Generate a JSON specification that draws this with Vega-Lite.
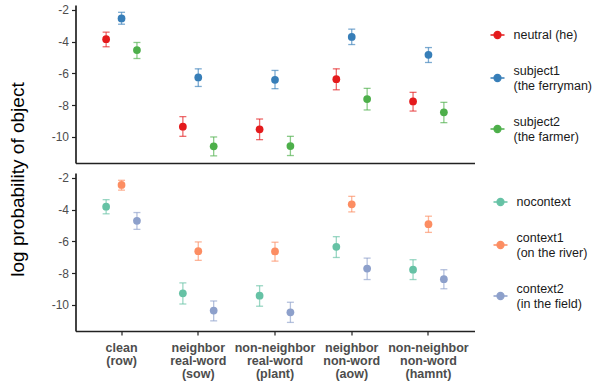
{
  "$schema": "https://vega.github.io/schema/vega-lite/v6.json",
  "background": "white",
  "padding": {"left": 8.5, "top": 3, "right": 5, "bottom": 0},
  "config": {
    "font": "Liberation Sans",
    "view": {"stroke": null},
    "axis": {"grid": false, "domainColor": "#222222", "domainWidth": 1.7, "tickColor": "#222222", "tickWidth": 1.2, "tickSize": 4, "labelColor": "#4d4d4d", "labelFontSize": 12, "labelOverlap": false},
    "axisY": {"labelOverlap": false, "tickCount": 5, "labelPadding": 3},
    "legend": {"labelFontSize": 12.5, "labelColor": "#1a1a1a", "labelLineHeight": 13.5, "rowPadding": 23, "symbolSize": 196, "symbolStrokeWidth": 1.3, "symbolOpacity": 1, "labelOffset": 8, "symbolType": "M-1,0L1,0M-0.5,0A0.5,0.5 0 1,1 0.5,0A0.5,0.5 0 1,1 -0.5,0Z"}
  },
  "datasets": {
    "top": [
      {"cond": "clean|(row)", "grp": "neutral (he)", "slot": 1, "m": -3.84, "lo": -4.32, "hi": -3.40},
      {"cond": "clean|(row)", "grp": "subject1|(the ferryman)", "slot": 2, "m": -2.54, "lo": -2.90, "hi": -2.15},
      {"cond": "clean|(row)", "grp": "subject2|(the farmer)", "slot": 3, "m": -4.53, "lo": -5.06, "hi": -4.05},
      {"cond": "neighbor|real-word|(sow)", "grp": "neutral (he)", "slot": 1, "m": -9.35, "lo": -9.96, "hi": -8.72},
      {"cond": "neighbor|real-word|(sow)", "grp": "subject1|(the ferryman)", "slot": 2, "m": -6.25, "lo": -6.82, "hi": -5.71},
      {"cond": "neighbor|real-word|(sow)", "grp": "subject2|(the farmer)", "slot": 3, "m": -10.59, "lo": -11.19, "hi": -10.0},
      {"cond": "non-neighbor|real-word|(plant)", "grp": "neutral (he)", "slot": 1, "m": -9.52, "lo": -10.17, "hi": -8.87},
      {"cond": "non-neighbor|real-word|(plant)", "grp": "subject1|(the ferryman)", "slot": 2, "m": -6.40, "lo": -6.96, "hi": -5.81},
      {"cond": "non-neighbor|real-word|(plant)", "grp": "subject2|(the farmer)", "slot": 3, "m": -10.57, "lo": -11.17, "hi": -9.96},
      {"cond": "neighbor|non-word|(aow)", "grp": "neutral (he)", "slot": 1, "m": -6.36, "lo": -7.03, "hi": -5.71},
      {"cond": "neighbor|non-word|(aow)", "grp": "subject1|(the ferryman)", "slot": 2, "m": -3.70, "lo": -4.18, "hi": -3.21},
      {"cond": "neighbor|non-word|(aow)", "grp": "subject2|(the farmer)", "slot": 3, "m": -7.61, "lo": -8.30, "hi": -6.94},
      {"cond": "non-neighbor|non-word|(hamnt)", "grp": "neutral (he)", "slot": 1, "m": -7.76, "lo": -8.37, "hi": -7.19},
      {"cond": "non-neighbor|non-word|(hamnt)", "grp": "subject1|(the ferryman)", "slot": 2, "m": -4.83, "lo": -5.31, "hi": -4.37},
      {"cond": "non-neighbor|non-word|(hamnt)", "grp": "subject2|(the farmer)", "slot": 3, "m": -8.45, "lo": -9.10, "hi": -7.82}
    ],
    "bottom": [
      {"cond": "clean|(row)", "grp": "nocontext", "slot": 1, "m": -3.81, "lo": -4.26, "hi": -3.37},
      {"cond": "clean|(row)", "grp": "context1|(on the river)", "slot": 2, "m": -2.44, "lo": -2.77, "hi": -2.15},
      {"cond": "clean|(row)", "grp": "context2|(in the field)", "slot": 3, "m": -4.70, "lo": -5.24, "hi": -4.18},
      {"cond": "neighbor|real-word|(sow)", "grp": "nocontext", "slot": 1, "m": -9.27, "lo": -9.94, "hi": -8.61},
      {"cond": "neighbor|real-word|(sow)", "grp": "context1|(on the river)", "slot": 2, "m": -6.61, "lo": -7.19, "hi": -6.03},
      {"cond": "neighbor|real-word|(sow)", "grp": "context2|(in the field)", "slot": 3, "m": -10.35, "lo": -11.0, "hi": -9.75},
      {"cond": "non-neighbor|real-word|(plant)", "grp": "nocontext", "slot": 1, "m": -9.42, "lo": -10.08, "hi": -8.79},
      {"cond": "non-neighbor|real-word|(plant)", "grp": "context1|(on the river)", "slot": 2, "m": -6.63, "lo": -7.24, "hi": -6.05},
      {"cond": "non-neighbor|real-word|(plant)", "grp": "context2|(in the field)", "slot": 3, "m": -10.46, "lo": -11.10, "hi": -9.83},
      {"cond": "neighbor|non-word|(aow)", "grp": "nocontext", "slot": 1, "m": -6.34, "lo": -7.01, "hi": -5.70},
      {"cond": "neighbor|non-word|(aow)", "grp": "context1|(on the river)", "slot": 2, "m": -3.66, "lo": -4.14, "hi": -3.16},
      {"cond": "neighbor|non-word|(aow)", "grp": "context2|(in the field)", "slot": 3, "m": -7.71, "lo": -8.40, "hi": -7.05},
      {"cond": "non-neighbor|non-word|(hamnt)", "grp": "nocontext", "slot": 1, "m": -7.78, "lo": -8.40, "hi": -7.15},
      {"cond": "non-neighbor|non-word|(hamnt)", "grp": "context1|(on the river)", "slot": 2, "m": -4.91, "lo": -5.43, "hi": -4.41},
      {"cond": "non-neighbor|non-word|(hamnt)", "grp": "context2|(in the field)", "slot": 3, "m": -8.38, "lo": -8.98, "hi": -7.78}
    ]
  },
  "bounds": "flush",
  "spacing": 10,
  "resolve": {"scale": {"color": "independent", "y": "independent", "x": "independent", "xOffset": "independent"}, "legend": {"color": "independent"}},
  "vconcat": [
    {
      "width": 399,
      "height": 158,
      "data": {"name": "top"},
      "encoding": {
        "x": {"field": "cond", "type": "nominal", "sort": null, "scale": {"type": "band", "paddingInner": 0, "paddingOuter": 0.1},
              "axis": {"title": null, "labels": false, "ticks": false, "domain": true}},
        "xOffset": {"field": "slot", "type": "nominal", "scale": {"type": "band", "paddingInner": 0, "paddingOuter": 0.99}},
        "color": {"field": "grp", "type": "nominal",
                  "scale": {"domain": ["neutral (he)", "subject1|(the ferryman)", "subject2|(the farmer)"], "range": ["#e41a1c", "#377eb8", "#4daf4a"]},
                  "legend": {"title": null, "orient": "none", "legendX": 414, "legendY": 22, "labelExpr": "split(datum.label, '|')",
                             "encode": {"labels": {"update": {"dy": {"signal": "indexof(datum.label, '|') >= 0 ? -6.75 : 0"}}}}}}
      },
      "layer": [
        {"mark": {"type": "rule", "strokeWidth": 1.3, "opacity": 0.65},
         "encoding": {"y": {"field": "lo", "type": "quantitative", "scale": {"domain": [-11.64, -1.69], "nice": false, "zero": false},
                            "axis": {"title": "log probability of object", "titleFontSize": 19, "titleFontWeight": "normal", "titleColor": "#000000", "titleAngle": 270, "titleAlign": "center", "titleBaseline": "middle", "titleX": -58, "titleY": 174, "values": [-2, -4, -6, -8, -10], "labelOverlap": false, "labelExpr": "'' + datum.value"}},
                      "y2": {"field": "hi"}}},
        {"mark": {"type": "tick", "size": 7, "thickness": 1.3, "opacity": 0.65},
         "encoding": {"y": {"field": "lo", "type": "quantitative", "axis": {"values": [-2, -4, -6, -8, -10], "labelOverlap": false}}}},
        {"mark": {"type": "tick", "size": 7, "thickness": 1.3, "opacity": 0.65},
         "encoding": {"y": {"field": "hi", "type": "quantitative", "axis": {"values": [-2, -4, -6, -8, -10], "labelOverlap": false}}}},
        {"mark": {"type": "point", "filled": true, "size": 60, "opacity": 1},
         "encoding": {"y": {"field": "m", "type": "quantitative", "axis": {"values": [-2, -4, -6, -8, -10], "labelOverlap": false}}}}
      ]
    },
    {
      "width": 399,
      "height": 158,
      "data": {"name": "bottom"},
      "encoding": {
        "x": {"field": "cond", "type": "nominal", "sort": null, "scale": {"type": "band", "paddingInner": 0, "paddingOuter": 0.1},
              "axis": {"title": null, "labelAngle": 0, "labelExpr": "split(datum.label, '|')", "labelFontWeight": "bold", "labelFontSize": 12.5, "labelLineHeight": 13.3, "labelPadding": 6, "labelBaseline": "top",
                       "encode": {"labels": {"update": {"dy": {"signal": "length(split(datum.label, '|')) == 2 ? 6.6 : 0"}}}}}},
        "xOffset": {"field": "slot", "type": "nominal", "scale": {"type": "band", "paddingInner": 0, "paddingOuter": 0.99}},
        "color": {"field": "grp", "type": "nominal",
                  "scale": {"domain": ["nocontext", "context1|(on the river)", "context2|(in the field)"], "range": ["#66c2a5", "#fc8d62", "#8da0cb"]},
                  "legend": {"title": null, "orient": "none", "legendX": 417, "legendY": 21, "labelExpr": "split(datum.label, '|')",
                             "encode": {"labels": {"update": {"dy": {"signal": "indexof(datum.label, '|') >= 0 ? -6.75 : 0"}}}}}}
      },
      "layer": [
        {"mark": {"type": "rule", "strokeWidth": 1.3, "opacity": 0.65},
         "encoding": {"y": {"field": "lo", "type": "quantitative", "scale": {"domain": [-11.64, -1.69], "nice": false, "zero": false},
                            "axis": {"title": null, "values": [-2, -4, -6, -8, -10], "labelOverlap": false, "labelExpr": "'' + datum.value"}},
                      "y2": {"field": "hi"}}},
        {"mark": {"type": "tick", "size": 7, "thickness": 1.3, "opacity": 0.65},
         "encoding": {"y": {"field": "lo", "type": "quantitative", "axis": {"values": [-2, -4, -6, -8, -10], "labelOverlap": false}}}},
        {"mark": {"type": "tick", "size": 7, "thickness": 1.3, "opacity": 0.65},
         "encoding": {"y": {"field": "hi", "type": "quantitative", "axis": {"values": [-2, -4, -6, -8, -10], "labelOverlap": false}}}},
        {"mark": {"type": "point", "filled": true, "size": 60, "opacity": 1},
         "encoding": {"y": {"field": "m", "type": "quantitative", "axis": {"values": [-2, -4, -6, -8, -10], "labelOverlap": false}}}}
      ]
    }
  ]
}
